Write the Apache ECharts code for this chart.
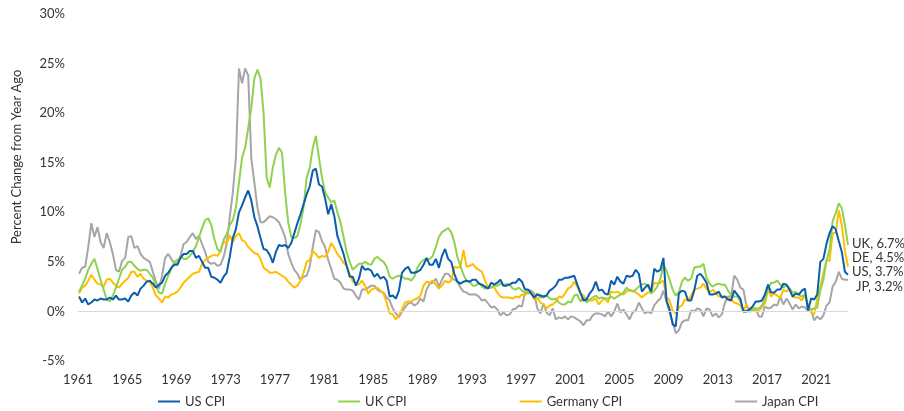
<!DOCTYPE html>
<html>
<head>
<meta charset="utf-8">
<script src="https://cdn.jsdelivr.net/npm/echarts@6/dist/echarts.min.js"></script>
<style>
  html, body { margin: 0; padding: 0; background: #fff; }
  #chart { width: 904px; height: 411px; }
</style>
</head>
<body>
<div id="chart"></div>
<script>
// Quarterly samples (Feb, May, Aug, Nov) of year-over-year CPI change, 1961 - Aug 2023
const startYear = 1961;
const xTickLabels = ['1961','1965','1969','1973','1977','1981','1985','1989','1993','1997','2001','2005','2009','2013','2017','2021'];
const seriesNames = ['US CPI', 'UK CPI', 'Germany CPI', 'Japan CPI'];

const usCpi = [
  1.5,0.9,1.3,0.7,  0.9,1.2,1.1,1.3,  1.2,1.2,1.4,1.2,  1.6,1.2,1.2,1.3,  1.0,1.6,1.9,1.6,
  2.3,2.6,3.0,3.1,  2.8,2.4,2.7,2.9,  3.6,3.9,4.4,4.7,  4.7,5.4,5.8,5.8,  6.1,6.1,5.4,5.6,
  5.0,4.4,4.4,3.5,  3.4,3.2,2.9,3.5,  3.9,5.5,7.4,8.3,  10.0,10.7,11.5,12.2, 11.2,9.5,8.6,7.4,
  6.3,6.2,5.7,4.9,  6.0,6.7,6.6,6.7,  6.4,6.9,7.9,8.9,  9.8,10.8,11.8,12.6, 14.2,14.4,12.8,12.6,
  11.4,9.8,10.8,9.6, 7.6,6.7,5.8,4.6, 3.5,3.5,2.6,3.3,  4.6,4.2,4.3,4.1,  3.5,3.8,3.3,3.5,
  3.1,1.5,1.6,1.3,  2.1,3.9,4.3,4.5,  3.9,3.9,4.0,4.2,  4.7,5.4,4.7,4.7,  5.3,4.4,5.6,6.3,
  5.3,5.0,3.8,3.0,  2.8,3.0,3.1,3.0,  3.2,3.2,2.8,2.7,  2.5,2.3,2.9,2.7,  2.9,3.2,2.6,2.6,
  2.7,2.9,2.9,3.3,  3.0,2.2,2.2,1.8,  1.4,1.7,1.6,1.5,  1.6,2.1,2.3,2.6,  3.2,3.2,3.4,3.4,
  3.5,3.6,2.7,1.9,  1.1,1.2,1.8,2.2,  3.0,2.1,2.2,1.8,  1.7,3.1,2.7,3.5,  3.0,2.8,3.6,3.5,
  3.6,4.2,3.8,2.0,  2.4,2.7,2.0,4.3,  4.0,4.2,5.4,1.1,  0.2,-1.3,-1.5,1.8, 2.1,2.0,1.1,1.1,
  2.1,3.6,3.8,3.4,  2.9,1.7,1.7,1.8,  2.0,1.4,1.5,1.2,  1.1,2.1,1.7,1.3,  0.0,0.0,0.2,0.5,
  1.0,1.0,1.1,1.7,  2.7,1.9,1.9,2.2,  2.2,2.8,2.7,2.2,  1.5,1.8,1.7,2.1,  2.3,0.1,1.3,1.2,
  1.7,5.0,5.3,6.8,  7.9,8.6,8.3,7.1,  6.0,4.0,3.7
];

const ukCpi = [
  2.0,2.6,3.3,4.2,  4.8,5.3,4.3,3.2,  2.2,1.2,1.0,1.6,  2.4,3.3,4.2,4.5,  5.0,5.0,4.6,4.3,
  4.1,4.2,4.2,3.8,  3.4,2.6,1.9,1.8,  2.8,3.6,4.3,5.0,  5.2,5.5,5.3,5.3,  5.6,6.0,6.6,7.5,
  8.4,9.2,9.4,8.7,  7.3,6.3,6.0,7.2,  7.8,8.7,9.2,10.5, 13.0,15.5,16.5,18.5, 20.5,23.5,24.4,23.5,
  20.0,13.5,12.5,14.5, 15.8,16.5,16.0,12.0, 9.0,7.5,7.4,7.6, 8.8,10.5,13.5,14.5, 16.5,17.7,15.5,13.5,
  12.0,11.5,11.0,11.2, 10.0,9.0,7.5,6.0, 5.0,4.2,4.5,4.8, 4.8,5.0,4.8,4.7,  5.3,5.5,5.2,5.0,
  4.5,3.5,3.3,3.5,  3.6,3.5,3.3,3.3,  3.1,3.5,4.4,4.9,  5.2,5.3,5.3,5.6,  6.5,7.5,8.0,8.2,
  8.4,8.0,7.0,5.5,  4.6,3.7,3.1,3.0,  2.6,2.6,2.9,2.5,  2.3,2.4,2.4,2.6,  2.6,2.8,2.6,2.8,
  2.7,2.3,2.2,2.4,  2.1,1.9,1.8,1.9,  1.5,1.8,1.4,1.4,  1.6,1.3,1.2,1.3,  0.9,0.7,0.7,1.0,
  0.9,1.6,1.7,1.0,  1.4,0.9,1.2,1.4,  1.6,1.3,1.4,1.3,  1.3,1.5,1.3,1.5,  1.7,1.9,2.4,2.1,
  2.0,2.2,2.5,2.7,  2.8,2.5,1.8,2.1,  2.5,3.3,4.7,4.1,  3.2,2.2,1.6,1.9,  3.0,3.4,3.1,3.3,
  4.4,4.5,4.5,4.8,  3.4,2.8,2.5,2.7,  2.8,2.7,2.7,2.1,  1.7,1.5,1.5,1.0,  0.0,0.1,0.0,0.1,
  0.3,0.3,0.6,1.2,  2.3,2.9,2.9,3.1,  2.7,2.4,2.7,2.3,  1.9,2.0,1.7,1.5,  1.7,0.5,0.2,0.3,
  0.4,2.1,3.2,5.1,  6.2,9.1,9.9,10.9, 10.4,8.7,6.7
];

const germanyCpi = [
  1.8,2.4,2.6,3.1,  3.7,3.2,2.8,2.7,  2.5,3.2,3.3,2.9,  2.6,2.4,2.8,3.1,  3.4,4.0,4.0,3.5,
  3.8,3.3,3.1,3.0,  2.4,1.6,1.3,0.9,  1.5,1.4,1.7,1.8,  2.0,2.4,2.9,3.2,  3.5,3.8,3.9,4.0,
  4.8,5.2,5.4,5.6,  5.7,5.6,6.1,7.1,  6.8,7.7,7.0,7.6,  7.9,7.2,7.0,6.5,  6.2,5.9,5.8,5.3,
  4.4,4.2,3.9,3.9,  4.0,3.8,3.6,3.4,  3.0,2.7,2.4,2.6,  3.1,3.9,5.0,5.2,  6.1,5.8,5.4,5.6,
  5.5,6.0,6.9,6.4,  5.8,5.4,4.9,4.6,  3.8,3.0,2.9,2.7,  3.1,2.6,1.8,2.2,  2.3,2.4,2.1,1.8,
  0.9,-0.2,-0.3,-0.8, -0.4,0.2,0.9,1.0, 1.0,1.2,1.3,1.6,  2.6,3.0,2.9,3.1,  2.7,2.3,2.6,3.1,
  2.9,3.1,4.5,4.4,  4.5,6.2,4.5,4.6,  4.8,4.4,4.2,4.0,  3.1,2.4,2.5,2.4,  1.9,1.5,1.4,1.4,
  1.4,1.3,1.5,1.4,  1.7,1.6,2.1,1.9,  1.2,1.4,0.9,0.7,  0.3,0.6,0.7,1.0,  1.5,1.4,1.8,2.3,
  2.5,3.0,2.5,1.8,  1.6,1.2,1.1,1.1,  1.3,0.7,1.1,1.3,  0.9,2.0,1.9,2.0,  1.8,1.7,2.0,2.2,
  2.1,1.9,1.7,1.4,  1.7,1.9,1.9,2.9,  2.8,2.9,3.1,1.4,  1.1,0.1,-0.2,0.4, 0.6,1.2,1.1,1.6,
  2.2,2.3,2.4,2.8,  2.3,1.9,2.2,1.9,  1.5,1.5,1.5,1.4,  1.2,0.9,0.8,0.6,  0.1,0.7,0.2,0.4,
  0.0,0.1,0.4,0.8,  2.2,1.5,1.8,1.6,  1.4,2.2,2.0,2.3,  1.5,1.4,1.4,1.1,  1.7,0.6,-0.1,-0.3,
  1.3,2.5,3.9,5.2,  5.1,7.9,7.9,10.2, 8.7,6.1,4.5
];

const japanCpi = [
  3.8,4.4,4.5,6.5,  8.9,7.5,8.5,7.0,  6.4,7.9,7.0,5.8,  4.2,4.0,5.1,5.4,  7.5,7.6,6.4,6.6,
  5.8,5.4,5.2,5.0,  4.0,3.0,2.3,3.6,  5.4,5.8,5.3,4.8,  4.9,5.6,6.8,7.0,  7.5,7.9,7.3,7.6,
  6.8,6.0,5.0,4.8,  4.9,4.6,4.7,5.5,  6.8,9.5,12.0,15.5, 24.5,23.0,24.5,23.8, 15.5,13.0,10.5,9.0,
  9.0,9.3,9.6,9.5,  9.3,9.0,8.3,7.5,  5.8,4.9,4.2,3.8,  3.2,3.5,3.6,4.5,  6.5,8.2,8.0,7.1,
  6.5,5.2,4.3,3.3,  3.2,2.9,2.3,2.2,  2.2,2.1,1.6,1.2,  2.2,2.2,2.4,2.6,  2.6,2.2,2.0,1.9,
  1.4,1.1,0.3,-0.2, -0.6,0.0,0.4,0.8, 0.9,0.6,0.8,1.3,  1.0,2.2,2.8,2.9,  3.3,2.5,3.2,3.8,
  3.8,3.4,3.2,3.0,  2.4,2.0,1.9,1.7,  1.7,1.7,1.5,1.1,  1.2,0.8,0.4,0.5,  0.2,-0.4,-0.1,-0.4,
  -0.3,0.2,0.3,0.6, 0.5,1.9,2.1,2.1,  1.8,0.3,-0.2,0.8, -0.1,-0.4,0.3,-0.8, -0.6,-0.7,-0.5,-0.8,
  -0.5,-0.6,-0.8,-1.0, -1.4,-0.9,-0.9,-0.4, -0.2,-0.2,-0.3,-0.5, 0.0,-0.5,0.0,0.8, -0.1,0.2,-0.3,-0.8,
  -0.1,0.1,0.9,0.3, -0.2,0.0,-0.2,0.6, 1.0,1.3,2.1,1.0,  -0.1,-1.1,-2.2,-1.9, -1.1,-0.9,-0.9,0.1,
  0.0,0.3,0.2,-0.5, 0.3,0.2,-0.5,-0.2, -0.6,-0.3,0.9,1.5, 1.5,3.6,3.2,2.4,  2.2,0.5,0.2,0.3,
  0.3,-0.5,-0.5,0.5, 0.3,0.4,0.7,0.6,  1.5,0.7,1.3,0.8,  0.2,0.7,0.3,0.5,  0.4,0.1,0.2,-0.9,
  -0.5,-0.8,-0.4,0.6, 0.9,2.5,3.0,4.0, 3.3,3.2,3.2
];

const endLabels = ['UK, 6.7%', 'DE, 4.5%', 'US, 3.7%', 'JP, 3.2%'];

const colors = { us: '#0a5eab', uk: '#8fd24e', de: '#ffbf00', jp: '#a6a6a6' };
const FONT = 'Lato, "Noto Sans", sans-serif';

// month index (0 = Jan 1961) of each quarterly sample: Feb, May, Aug, Nov
function toPairs(values) {
  return values.map((v, i) => [1 + 3 * i, v]);
}
const lastMonth = 1 + 3 * (usCpi.length - 1);

function lineSeries(name, values, color, extra) {
  return Object.assign({
    name: name,
    type: 'line',
    data: toPairs(values),
    showSymbol: false,
    symbol: 'none',
    smooth: false,
    lineStyle: { color: color, width: 2 },
    itemStyle: { color: color },
    emphasis: { disabled: true },
    silent: true
  }, extra || {});
}

const chart = echarts.init(document.getElementById('chart'), null, { renderer: 'canvas' });
chart.setOption({
  animation: false,
  backgroundColor: '#ffffff',
  textStyle: { fontFamily: FONT },
  grid: { left: 78, right: 56, top: 14, bottom: 50, containLabel: false },
  legend: {
    data: seriesNames,
    left: 153,
    top: 390,
    padding: 5,
    icon: 'rect',
    itemWidth: 22,
    itemHeight: 2,
    itemGap: 113,
    textStyle: { fontFamily: FONT, fontSize: 13, color: '#333333' },
    selectedMode: false
  },
  xAxis: {
    type: 'value',
    min: 0,
    max: lastMonth,
    interval: 48,
    axisLine: { show: false },
    axisTick: { show: false },
    splitLine: { show: false },
    axisLabel: {
      fontFamily: FONT,
      fontSize: 13,
      color: '#333333',
      margin: 12,
      showMaxLabel: false,
      formatter: function (v) {
        if (v % 48 !== 0) return '';
        const lbl = xTickLabels[v / 48];
        return lbl || '';
      }
    }
  },
  yAxis: {
    type: 'value',
    min: -5,
    max: 30,
    interval: 5,
    axisLine: { show: false },
    axisTick: { show: false },
    splitLine: { show: false },
    axisLabel: {
      fontFamily: FONT,
      fontSize: 13,
      color: '#333333',
      margin: 13,
      formatter: function (v) { return v + '%'; }
    }
  },
  graphic: [
    {
      type: 'text',
      x: 17, y: 157,
      rotation: Math.PI / 2,
      style: {
        text: 'Percent Change from Year Ago',
        fontFamily: FONT, fontSize: 13, fill: '#333333',
        textAlign: 'center', textVerticalAlign: 'middle'
      }
    },
    { type: 'text', x: 852, y: 244, style: { text: endLabels[0], fontFamily: FONT, fontSize: 13, fill: '#333333', textVerticalAlign: 'middle' } },
    { type: 'text', x: 852, y: 258, style: { text: endLabels[1], fontFamily: FONT, fontSize: 13, fill: '#333333', textVerticalAlign: 'middle' } },
    { type: 'text', x: 852, y: 272, style: { text: endLabels[2], fontFamily: FONT, fontSize: 13, fill: '#333333', textVerticalAlign: 'middle' } },
    { type: 'text', x: 856, y: 287, style: { text: endLabels[3], fontFamily: FONT, fontSize: 13, fill: '#333333', textVerticalAlign: 'middle' } }
  ],
  series: [
    lineSeries('Japan CPI', japanCpi, colors.jp, {
      markLine: {
        silent: true,
        symbol: 'none',
        label: { show: false },
        lineStyle: { color: '#d9d9d9', width: 1, type: 'solid' },
        data: [{ yAxis: 0 }]
      }
    }),
    lineSeries('Germany CPI', germanyCpi, colors.de),
    lineSeries('UK CPI', ukCpi, colors.uk),
    lineSeries('US CPI', usCpi, colors.us)
  ]
});
</script>
</body>
</html>
